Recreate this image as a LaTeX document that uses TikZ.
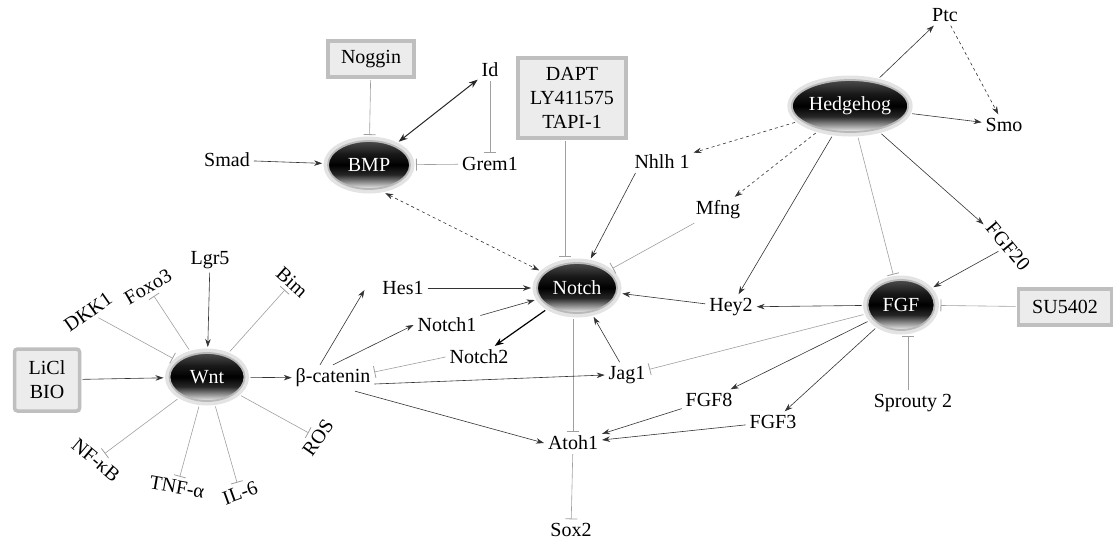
\documentclass[tikz,border=0pt]{standalone}
\usepackage{fontspec}
\setmainfont{Liberation Serif}
\usetikzlibrary{arrows.meta,shadows,calc,shapes.geometric}
\pgfdeclareverticalshading{glossy}{100bp}{color(0bp)=(gray!10); color(25bp)=(gray!10); color(31bp)=(gray!75); color(40bp)=(black!85); color(50bp)=(black); color(62bp)=(black!90); color(75bp)=(gray!60!black); color(100bp)=(gray!60!black)}
\begin{document}
\begin{tikzpicture}[x=1pt,y=-1pt,
  font=\fontsize{20}{24}\selectfont,
  lab/.style={inner sep=1pt, outer sep=3pt},
  hub/.style={ellipse, preaction={draw=gray!22, line width=9pt}, shading=glossy, draw=gray!55, line width=1.8pt, text=white, inner sep=0pt, outer sep=6pt},
  box/.style={rectangle, fill=gray!15, draw=gray!50, line width=3.5pt, align=center, inner sep=2pt, outer sep=3pt,
     drop shadow={shadow xshift=1.5pt, shadow yshift=-1.5pt, fill=gray!40}},
  act/.style={draw=black!80, line width=0.6pt, -{Stealth[length=8pt,width=5.5pt]}},
  thk/.style={draw=black, line width=1.2pt, -{Stealth[length=9pt,width=6.5pt]}},
  dbl/.style={draw=black!85, line width=1pt, {Stealth[length=9pt,width=6.5pt]}-{Stealth[length=9pt,width=6.5pt]}},
  dsh/.style={act, dashed},
  dshd/.style={draw=black!80, line width=0.6pt, dashed, {Stealth[length=8pt,width=5.5pt]}-{Stealth[length=8pt,width=5.5pt]}},
  inh/.style={draw=gray!75, line width=0.6pt, -{Bar[width=12pt,line width=0.8pt]}}
]
\useasboundingbox (0,0) rectangle (1115,542);
% nodes
\node[box, minimum width=86pt, minimum height=36pt] (noggin) at (371,59) {Noggin};
\node[lab] (id) at (490,70) {Id};
\node[box, minimum width=108pt, minimum height=80pt] (dapt) at (572,98) {DAPT\\LY411575\\TAPI-1};
\node[hub, minimum width=82pt, minimum height=48pt] (bmp) at (369,165) {BMP};
\node[lab] (smad) at (227,160) {Smad};
\node[lab] (grem) at (490,164) {Grem1};
\node[hub, minimum width=114pt, minimum height=52pt] (hh) at (850,106) {Hedgehog};
\node[lab] (ptc) at (945,15) {Ptc};
\node[lab] (smo) at (1004,125) {Smo};
\node[lab] (nhlh) at (662,162) {Nhlh 1};
\node[lab] (mfng) at (718,210) {Mfng};
\node[lab, rotate=-50] (fgf20) at (1008,246) {FGF20};
\node[hub, minimum width=80pt, minimum height=50pt] (notch) at (577,288) {Notch};
\node[lab] (hes) at (403,288) {Hes1};
\node[lab] (n1) at (447,325) {Notch1};
\node[lab] (n2) at (479,357) {Notch2};
\node[lab] (bcat) at (333,378) {β-catenin};
\node[lab] (jag) at (627,375) {Jag1};
\node[lab] (hey) at (731,307) {Hey2};
\node[lab] (atoh) at (573,443) {Atoh1};
\node[lab] (sox) at (571,530) {Sox2};
\node[lab] (fgf8) at (709,400) {FGF8};
\node[lab] (fgf3) at (773,422) {FGF3};
\node[hub, minimum width=67pt, minimum height=50pt] (fgf) at (901,305) {FGF};
\node[box, minimum width=93pt, minimum height=36pt] (su) at (1065,307) {SU5402};
\node[lab] (spr) at (913,403) {Sprouty 2};
\node[hub, minimum width=75pt, minimum height=48pt] (wnt) at (207,377) {Wnt};
\node[box, rounded corners=3pt, minimum width=65pt, minimum height=62pt] (licl) at (47,380) {LiCl\\BIO};
\node[lab] (lgr) at (210,260) {Lgr5};
\node[lab, rotate=35] (dkk) at (88,312) {DKK1};
\node[lab, rotate=30] (foxo) at (148,287) {Foxo3};
\node[lab, rotate=-42] (bim) at (292,282) {Bim};
\node[lab, rotate=-40] (nfkb) at (96,460) {NF-κB};
\node[lab, rotate=-10] (tnf) at (177,487) {TNF-α};
\node[lab, rotate=20] (il6) at (240,493) {IL-6};
\node[lab, rotate=55] (ros) at (318,438) {ROS};
% BMP
\draw[inh] (noggin) -- (bmp);
\draw[dbl] (bmp) -- (id);
\draw[inh] (id) -- (grem);
\draw[inh] (grem) -- (bmp);
\draw[act] (smad) -- (bmp);
\draw[dshd] (bmp.-60) -- (notch.155);
% Notch
\draw[inh] ($(dapt.south)+(-7,0)$) -- ($(notch.north)+(-12,0)$);
\draw[act] ($(nhlh.south west)+(5,0)$) -- (notch.65);
\draw[inh] (mfng) -- (notch);
\draw[act] (hes) -- (notch);
\draw[act] (n1) -- (notch);
\draw[thk] (notch) -- (n2);
\draw[act] (jag) -- (notch);
\draw[act] (hey) -- (notch);
\draw[inh] (notch.south -| atoh) -- (atoh);
\draw[inh] (atoh) -- (sox);
% Hedgehog
\draw[act] (hh) -- (ptc);
\draw[dsh] (ptc) -- (smo);
\draw[act] (hh) -- (smo);
\draw[dsh] (hh) -- (nhlh);
\draw[dsh] (hh) -- (mfng);
\draw[act] (hh) -- (hey);
\draw[inh] (hh) -- (fgf);
\draw[act] (hh) -- (fgf20);
\draw[act] (fgf20) -- (fgf);
% FGF
\draw[act] (fgf) -- (hey);
\draw[inh] (fgf) -- (jag);
\draw[act] (fgf) -- (fgf8);
\draw[act] (fgf) -- (fgf3);
\draw[inh] (su) -- (fgf);
\draw[inh] ($(spr.north)+(-5,0)$) -- ($(fgf.south)+(7,0)$);
\draw[act] (fgf8) -- (atoh);
\draw[act] (fgf3) -- (atoh);
% beta-catenin
\draw[act] ($(bcat.north)+(-13,0)$) -- ($(hes.west)+(-14,2)$);
\draw[act] (bcat.north) -- (n1.west);
\draw[inh] (n2.west) -- ($(bcat.east)+(0,-6)$);
\draw[act] ($(bcat.east)+(0,6)$) -- (jag.west);
\draw[act] ($(bcat.south)+(22,0)$) -- (atoh.west);
% Wnt
\draw[act] (wnt) -- (bcat);
\draw[act] (licl) -- (wnt);
\draw[act] (lgr) -- (wnt);
\draw[inh] (dkk) -- (wnt);
\draw[inh] (wnt) -- (foxo);
\draw[inh] (wnt) -- (bim);
\draw[inh] (wnt) -- (nfkb);
\draw[inh] (wnt) -- (tnf);
\draw[inh] (wnt) -- (il6);
\draw[inh] (wnt) -- (ros);
\end{tikzpicture}
\end{document}
